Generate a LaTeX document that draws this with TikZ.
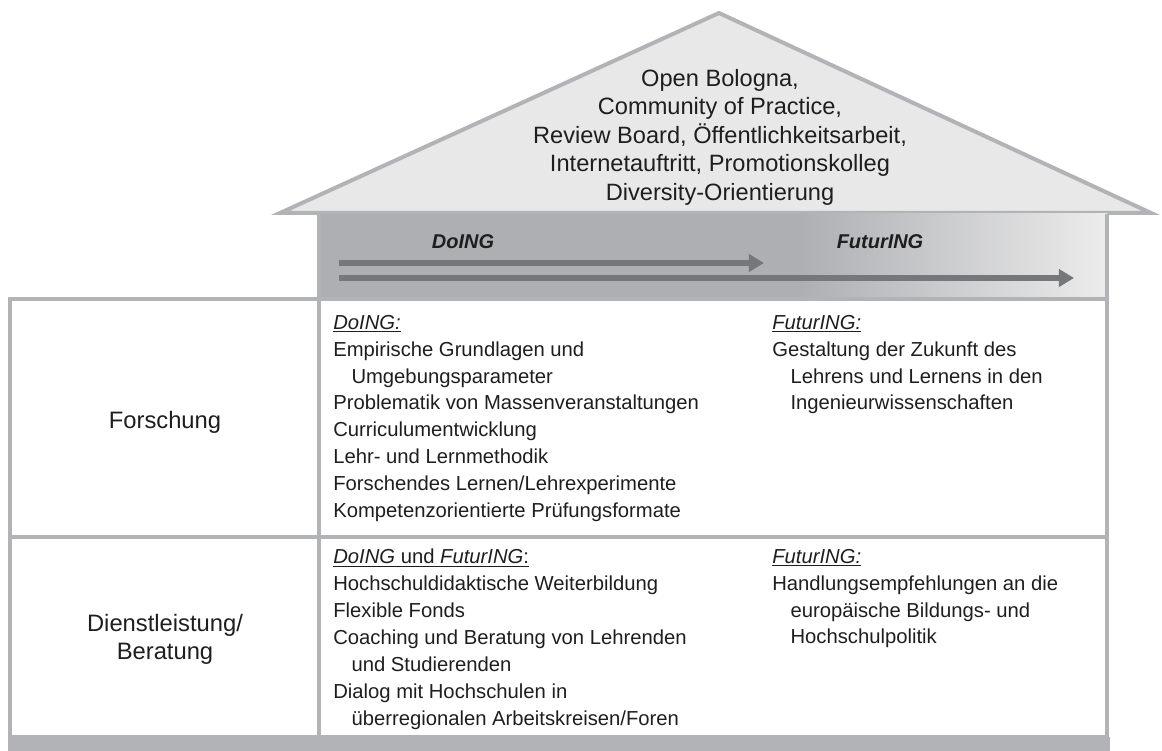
\documentclass[tikz,border=0pt]{standalone}
\usepackage{fontspec}
\setmainfont{Liberation Sans}
\usetikzlibrary{arrows.meta}

\definecolor{roofgray}{HTML}{E8E8E8}
\definecolor{linegray}{HTML}{B2B3B7}
\definecolor{bandgray}{HTML}{AEAFB3}
\definecolor{bandlight}{HTML}{ECECEC}
\definecolor{arrowgray}{HTML}{76777B}
\definecolor{textgray}{HTML}{1E1E1E}

%% indent for wrapped lines
\newcommand{\wrapind}{\hspace*{0.9em}}

\begin{document}
\begin{tikzpicture}[x=0.25mm, y=-0.25mm,
    frame/.style={draw=linegray, line width=1mm},
    cell/.style={anchor=north west, inner sep=0pt, align=left, text=textgray,
        font=\fontsize{14.4}{19.1}\selectfont},
    area/.style={inner sep=0pt, align=center, text=textgray,
        font=\fontsize{16.9}{19.9}\selectfont},
    phase/.style={inner sep=0pt, text=textgray,
        font=\fontsize{14.2}{17}\selectfont\bfseries\itshape},
    track/.style={draw=arrowgray, line width=1.4mm,
        -{Triangle[length=3.8mm, width=4.3mm]}}]

\useasboundingbox (0,0) rectangle (1162,751);

%% roof
\draw[frame, fill=roofgray] (280,213) -- (719,13) -- (1151,213) -- cycle;
\node[area, font=\fontsize{16.8}{20.3}\selectfont] (roof) at (720,137)
    {Open Bologna,\\Community of Practice,\\Review Board, Öffentlichkeitsarbeit,\\Internetauftritt, Promotionskolleg\\Diversity-Orientierung};

%% band below the roof
\fill[bandgray] (319,214) rectangle (800,299);
\shade[left color=bandgray, right color=bandlight] (800,214) rectangle (1107,299);

%% table
\draw[frame] (10,299) rectangle (1107,737);
\draw[frame] (319,214) -- (319,737);     %% column line
\draw[frame] (1107,214) -- (1107,299);   %% band, right side
\draw[frame] (10,537) -- (1107,537);     %% row line
\fill[linegray] (8,737) rectangle (1110,751);   %% ground

%% arrows in the band
\coordinate (doing start) at (339,263);
\coordinate (doing end) at (764,263);
\coordinate (futuring start) at (339,278);
\coordinate (futuring end) at (1074,278);
\draw[track] (doing start) -- (doing end);
\draw[track] (futuring start) -- (futuring end);
\node[phase] (doing) at (463,242) {DoING};
\node[phase] (futuring) at (880,242) {FuturING};

%% row labels
\node[area] (research) at (165,422) {Forschung};
\node[area] (service) at (165,639) {Dienstleistung/\\Beratung};

%% first row
\node[cell] (research doing) at (333,315)
    {\underline{\textit{DoING:}}\\
     Empirische Grundlagen und\\
     \wrapind Umgebungsparameter\\
     Problematik von Massenveranstaltungen\\
     Curriculumentwicklung\\
     Lehr- und Lernmethodik\\
     Forschendes Lernen/Lehrexperimente\\
     Kompetenzorientierte Prüfungsformate};
\node[cell] (research futuring) at (772,315)
    {\underline{\textit{FuturING:}}\\
     Gestaltung der Zukunft des\\
     \wrapind Lehrens und Lernens in den\\
     \wrapind Ingenieurwissenschaften};

%% second row
\node[cell] (service doing) at (333,549)
    {\underline{\textit{DoING} und \textit{FuturING}:}\\
     Hochschuldidaktische Weiterbildung\\
     Flexible Fonds\\
     Coaching und Beratung von Lehrenden\\
     \wrapind und Studierenden\\
     Dialog mit Hochschulen in\\
     \wrapind überregionalen Arbeitskreisen/Foren};
\node[cell] (service futuring) at (772,549)
    {\underline{\textit{FuturING:}}\\
     Handlungsempfehlungen an die\\
     \wrapind europäische Bildungs- und\\
     \wrapind Hochschulpolitik};

\end{tikzpicture}
\end{document}
